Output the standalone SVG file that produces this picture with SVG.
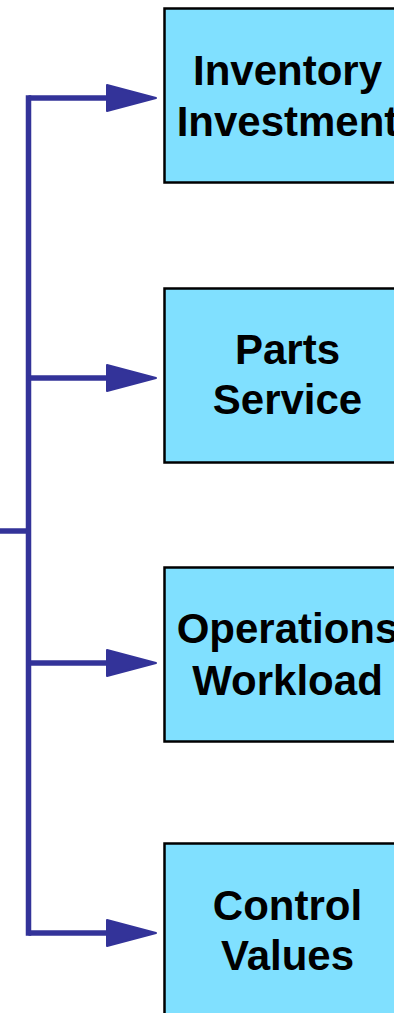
<svg xmlns="http://www.w3.org/2000/svg" width="394" height="1013" viewBox="0 0 394 1013">
  <style>
    .box { fill: #80E0FF; stroke: #000000; stroke-width: 2.5; }
    .label { font-family: "Liberation Sans", Arial, Helvetica, sans-serif; font-weight: bold; font-size: 42px; fill: #000000; text-anchor: middle; }
    .wire { fill: none; stroke: #333399; stroke-width: 5.5; }
    .trunk { stroke-linecap: square; }
  </style>
  <defs>
    <marker id="head" markerUnits="userSpaceOnUse" markerWidth="54" markerHeight="32" viewBox="0 0 54 32" refX="1" refY="15" orient="auto">
      <path d="M1,2 L50,15 L1,28 Z" fill="#333399" stroke="#333399" stroke-width="2" stroke-linejoin="round"/>
    </marker>
  </defs>
  <rect width="394" height="1013" fill="#FFFFFF"/>

  <!-- connectors: incoming stub, vertical trunk and four branches -->
  <g id="connectors">
    <path class="wire" d="M0,531 H28.5"/>
    <path class="wire trunk" d="M28.5,98 V933"/>
    <path class="wire" d="M28.5,98 H107" marker-end="url(#head)"/>
    <path class="wire" d="M28.5,378 H107" marker-end="url(#head)"/>
    <path class="wire" d="M28.5,663 H107" marker-end="url(#head)"/>
    <path class="wire" d="M28.5,933 H107" marker-end="url(#head)"/>
  </g>

  <g id="inventory-investment">
    <rect class="box" x="164.5" y="8.5" width="248" height="174"/>
    <text class="label" x="287.5" y="85">Inventory</text>
    <text class="label" x="287.5" y="136">Investment</text>
  </g>

  <g id="parts-service">
    <rect class="box" x="164.5" y="288.5" width="248" height="174"/>
    <text class="label" x="287.5" y="364">Parts</text>
    <text class="label" x="287.5" y="414">Service</text>
  </g>

  <g id="operations-workload">
    <rect class="box" x="164.5" y="567.5" width="248" height="174"/>
    <text class="label" x="287.5" y="643">Operations</text>
    <text class="label" x="287.5" y="695">Workload</text>
  </g>

  <g id="control-values">
    <rect class="box" x="164.5" y="843.5" width="248" height="180"/>
    <text class="label" x="287.5" y="920">Control</text>
    <text class="label" x="287.5" y="970">Values</text>
  </g>
</svg>
